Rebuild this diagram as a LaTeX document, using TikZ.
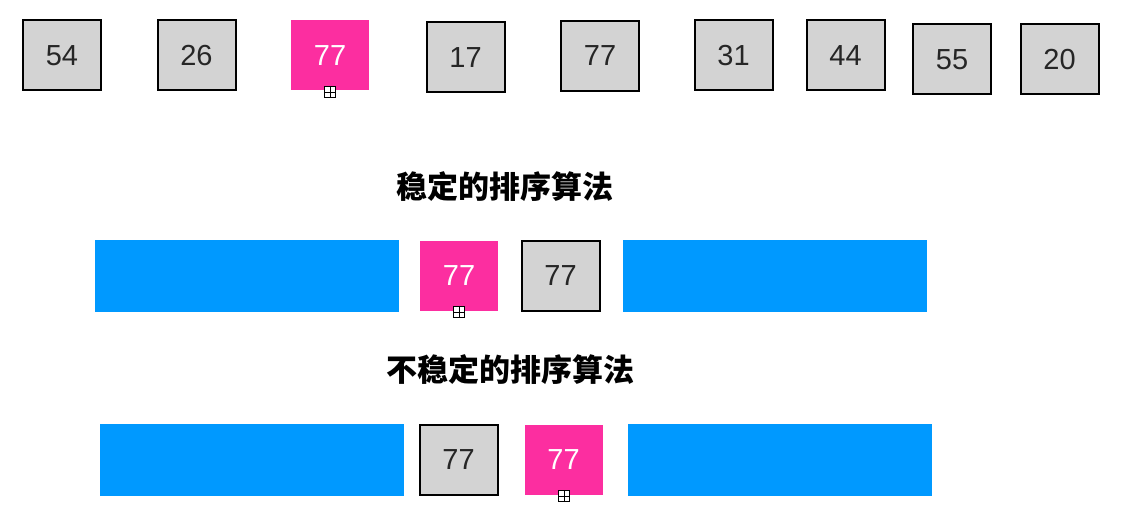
\documentclass[tikz,border=0pt]{standalone}
\usepackage{fontspec}
\setmainfont{Liberation Sans}
\newfontfamily\cjk{Noto Sans CJK SC}
\definecolor{pinkc}{RGB}{252,46,160}
\definecolor{bluec}{RGB}{0,153,255}
\definecolor{grayc}{RGB}{211,211,211}
\begin{document}
\begin{tikzpicture}[x=1pt,y=-1pt,
  gbox/.style={draw=black,line width=2pt,fill=grayc,minimum width=78pt,minimum height=70pt,inner sep=0pt,font=\fontsize{29}{29}\selectfont,text=black!85},
  pbox/.style={fill=pinkc,minimum width=78pt,minimum height=70pt,inner sep=0pt,font=\fontsize{29}{29}\selectfont,text=white},
  bbar/.style={fill=bluec,minimum width=304pt,minimum height=72pt,inner sep=0pt},
  plusmark/.style={draw=black,fill=white,line width=0.8pt,minimum size=11pt,inner sep=0pt,
    path picture={\draw[line width=0.8pt] (path picture bounding box.north) -- (path picture bounding box.south)
      (path picture bounding box.west) -- (path picture bounding box.east);}},
  title/.style={font=\cjk\bfseries\fontsize{31}{31}\selectfont}]
\useasboundingbox (0,0) rectangle (1142,532);
% top row
\node[gbox] (a1) at (62,55.5) {54};
\node[gbox] (a2) at (196.5,55.5) {26};
\node[pbox] (a3) at (330,55.5) {77};
\node[plusmark] (m1) at (330,92) {};
\node[gbox] (a4) at (465.5,57.5) {17};
\node[gbox] (a5) at (600,56) {77};
\node[gbox] (a6) at (733.5,55.5) {31};
\node[gbox] (a7) at (845.5,55.5) {44};
\node[gbox] (a8) at (952,59.5) {55};
\node[gbox] (a9) at (1059.5,59.5) {20};
% stable
\node[title] (t1) at (505,187) {稳定的排序算法};
\node[bbar] (b1) at (247,276) {};
\node[pbox] (s1) at (459,276) {77};
\node[plusmark] (m2) at (459,312) {};
\node[gbox] (s2) at (560.5,275.5) {77};
\node[bbar] (b2) at (775,276) {};
% unstable
\node[title] (t2) at (510,370) {不稳定的排序算法};
\node[bbar] (b3) at (252,460) {};
\node[gbox] (u1) at (458.5,459.5) {77};
\node[pbox] (u2) at (563.5,460) {77};
\node[plusmark] (m3) at (564,496) {};
\node[bbar] (b4) at (779.5,460) {};
\end{tikzpicture}
\end{document}
